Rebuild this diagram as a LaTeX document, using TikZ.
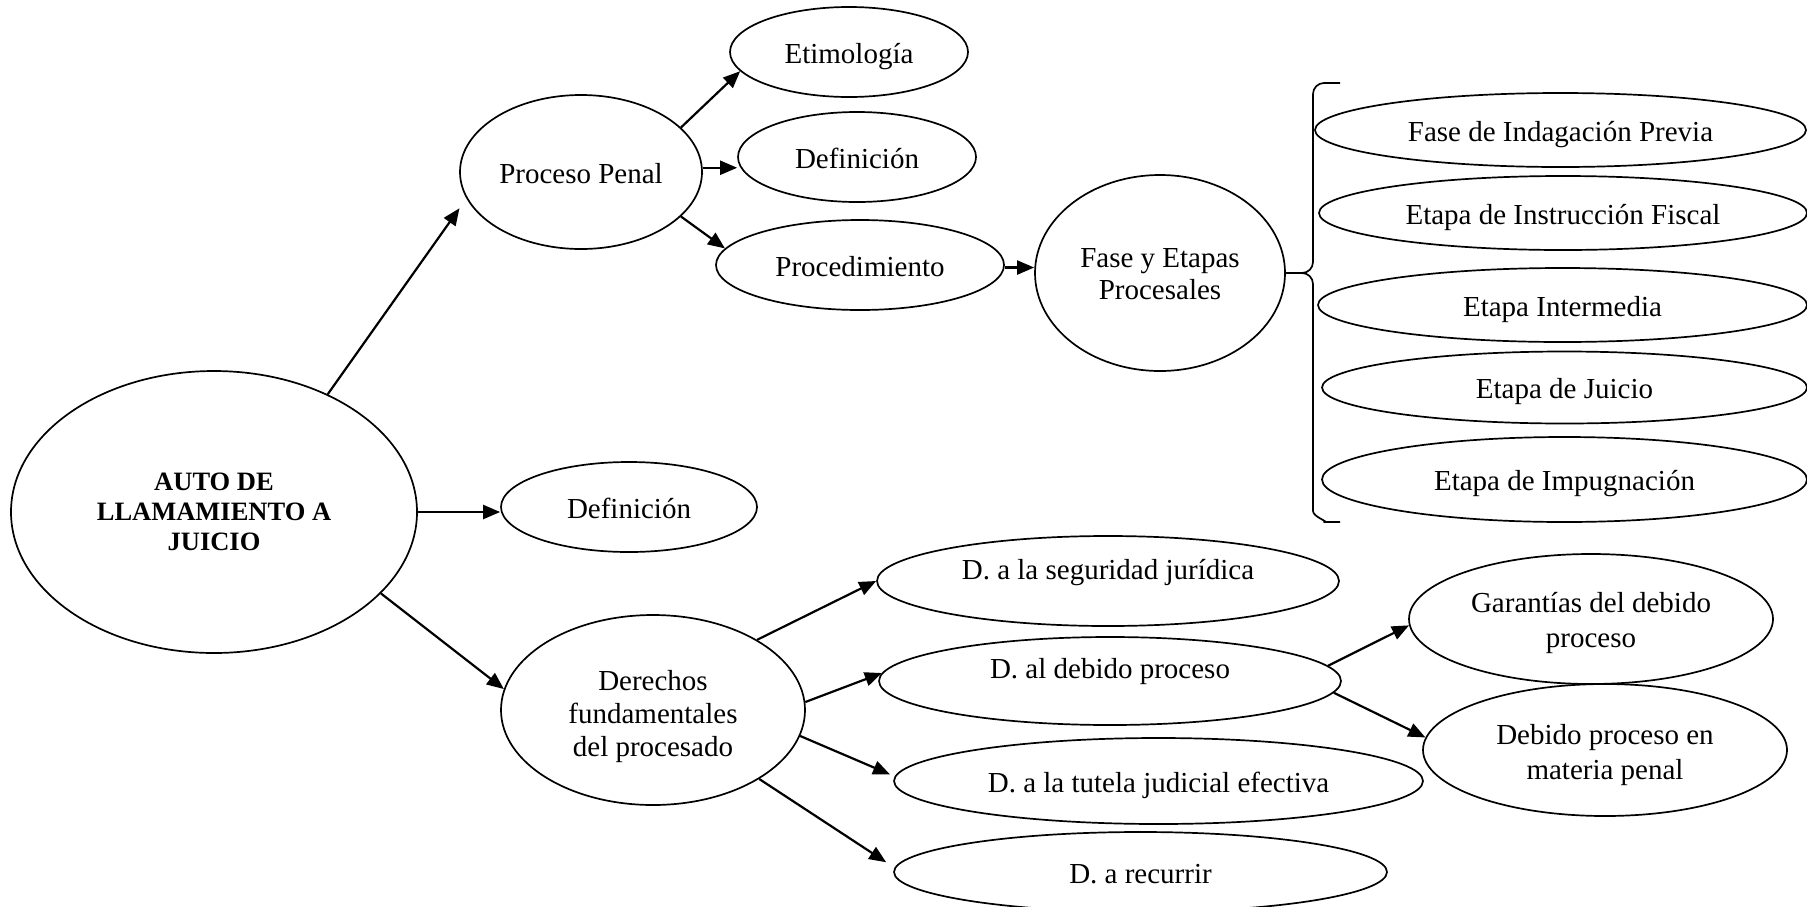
\documentclass[tikz,border=0pt]{standalone}
\usepackage{fontspec}
\setmainfont{Liberation Serif}
\usetikzlibrary{shapes.geometric,arrows.meta}
\begin{document}
\begin{tikzpicture}[x=1pt,y=-1pt]
\tikzset{
  txt/.style={font=\fontsize{29pt}{33pt}\selectfont},
  oval/.style={draw, ellipse, line width=1.7pt, inner sep=0pt, align=center, txt},
  one/.style={text height=27pt, text depth=5pt},
  sz/.style 2 args={minimum width=#1, minimum height=#2},
  arr/.style={line width=2.2pt, -{Triangle[length=17pt,width=14pt]}},
  bracket/.style={line width=1.7pt, line join=round}
}
\useasboundingbox (0,0) rectangle (1807,906);

% central node
\node[oval, sz={406pt}{282pt}, font=\bfseries\fontsize{26.5pt}{30pt}\selectfont]
  (auto) at (214,512) {AUTO DE\\LLAMAMIENTO A\\JUICIO};

% upper branch
\node[oval, one, sz={242pt}{154pt}] (pp) at (581,172) {Proceso Penal};
\node[oval, one, sz={238pt}{90pt}] (etim) at (849,52) {Etimología};
\node[oval, one, sz={238pt}{90pt}] (def1) at (857,157) {Definición};
\node[oval, one, sz={288pt}{90pt}] (proc) at (860,265) {Procedimiento};
\node[oval, sz={250pt}{196pt}, font=\fontsize{29pt}{32pt}\selectfont, text height=54pt]
  (fase) at (1160,273) {Fase y Etapas\\Procesales};

% stages
\node[oval, one, sz={491pt}{74pt}] (indag) at (1560.5,130) {Fase de Indagación Previa};
\node[oval, one, sz={488pt}{74pt}] (instr) at (1563,213) {Etapa de Instrucción Fiscal};
\node[oval, one, sz={489pt}{74pt}] (inter) at (1562.5,305) {Etapa Intermedia};
\node[oval, one, sz={485pt}{72pt}] (juicio) at (1564.5,387.5) {Etapa de Juicio};
\node[oval, one, sz={485pt}{85pt}] (impug) at (1564.5,479.5) {Etapa de Impugnación};

% middle
\node[oval, one, sz={256pt}{90pt}] (def2) at (629,507) {Definición};

% lower branch
\node[oval, sz={304pt}{190pt}, text height=100pt] (der) at (653,710)
  {Derechos\\fundamentales\\del procesado};
\node[oval, sz={462pt}{90pt}, text height=27pt, text depth=31pt]
  (seg) at (1108,581) {D. a la seguridad jurídica};
\node[oval, sz={462pt}{88pt}, text height=27pt, text depth=33pt]
  (deb) at (1110,681) {D. al debido proceso};
\node[oval, one, sz={529pt}{86pt}] (tut) at (1158.5,781) {D. a la tutela judicial efectiva};
\node[oval, one, sz={493pt}{80pt}] (rec) at (1140.5,872) {D. a recurrir};
\node[oval, sz={364pt}{130pt}, font=\fontsize{29pt}{35pt}\selectfont, text height=64pt]
  (gar) at (1591,619) {Garantías del debido\\proceso};
\node[oval, sz={364pt}{132pt}, font=\fontsize{29pt}{35pt}\selectfont, text height=66pt]
  (dpm) at (1605,750) {Debido proceso en\\materia penal};

% connectors
\draw[arr, shorten >=12pt] (auto.46) -- (pp.193);
\draw[arr] (auto.east) -- (auto.east -| def2.west);
\draw[arr] (auto.-26) -- (der.172);

\draw[arr] (pp.24) -- (etim.190);
\draw[arr] (pp.2) -- (pp.2 -| def1.west);
\draw[arr] (pp.-24) -- (proc.173);
\draw[arr] (proc.-1) -- (proc.-1 -| fase.west);

\draw[arr] (der.34) -- (seg.180);
\draw[arr] (der.3) -- (deb.178);
\draw[arr, shorten >=5pt] (der.-10) -- (tut.179);
\draw[arr, shorten >=10pt] (der.-33) -- (rec.179);

\draw[arr] (deb.4) -- (gar.182);
\draw[arr] (deb.-3) -- (dpm.176);

% bracket grouping the stages
\draw[bracket] (1340,83) -- (1324,83) to[out=180,in=90] (1313,94) -- (1313,262)
  to[out=-90,in=0] (1302,273) -- (fase.east);
\draw[bracket] (fase.east) -- (1302,273) to[out=0,in=90] (1313,284) -- (1313,511)
  to[out=-90,in=0] (1324,522) -- (1340,522);
\end{tikzpicture}
\end{document}
